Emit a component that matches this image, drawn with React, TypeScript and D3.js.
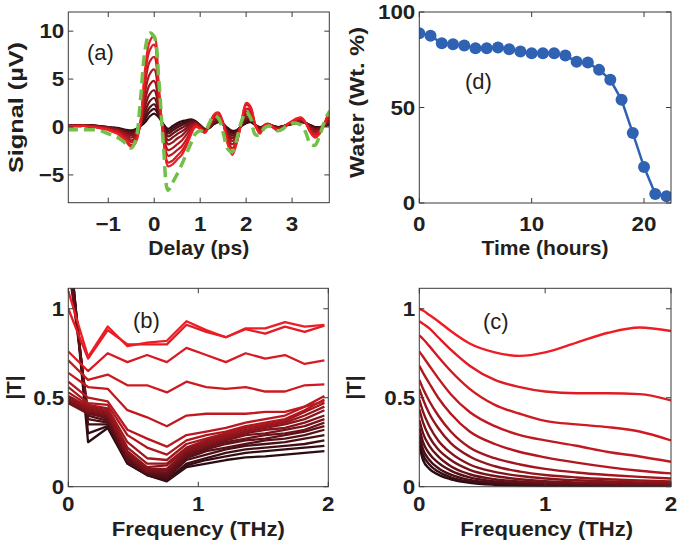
import React from "react";
import * as d3 from "d3";

// ---------- Panel (a): time-domain signals ----------
const delayPs = [-1.9,-1.8,-1.7,-1.6,-1.5,-1.4,-1.3,-1.2,-1.1,-1.0,-0.9,-0.8,-0.7,-0.6,-0.5,-0.4,-0.3,-0.2,-0.1,0.0,0.1,0.2,0.3,0.4,0.5,0.6,0.7,0.8,0.9,1.0,1.1,1.2,1.3,1.4,1.5,1.6,1.7,1.8,1.9,2.0,2.1,2.2,2.3,2.4,2.5,2.6,2.7,2.8,2.9,3.0,3.1,3.2,3.3,3.4,3.5,3.6,3.7,3.8,3.9];

const referenceSignal = [-0.3,-0.3,-0.3,-0.3,-0.3,-0.3,-0.3,-0.35,-0.5,-0.7, -0.9,-1.1,-1.4,-1.8,-2.2,-1.3,2.8,8.0,9.8,9.4, 4.9,-1.9,-6.6,-5.8,-4.9,-3.9,-2.8,-1.7,-0.7,-0.4, -0.5,0.4,1.2,0.9,-0.6,-2.3,-2.6,-1.2,0.6,1.6, 0.9,-0.8,-0.8,-0.1,0.1,-0.2,-0.4,-0.2,0.2,0.4, 0.4,0.2,-0.6,-1.8,-1.9,-0.9,0.5,1.5,2.0];

// ordered from wettest (dark) to driest (bright red)
const sig01 = [0.2,0.2,0.2,0.2,0.2,0.2,0.15,0.1,0.05,0.0, -0.05,-0.1,-0.2,-0.3,-0.35,-0.2,0.1,0.5,1.1,1.4, 1.0,0.3,-0.2,0.1,0.4,0.6,0.7,0.8,0.6,0.2, -0.2,-0.1,0.3,0.5,0.3,-0.1,-0.4,-0.3,0.1,0.4, 0.5,0.2,0.0,0.1,0.2,0.1,0.0,0.1,0.2,0.3, 0.4,0.5,0.4,0.2,0.0,0.0,0.1,0.2,0.3];
const sig02 = [0.19,0.19,0.19,0.19,0.19,0.19,0.14,0.09,0.035,-0.02, -0.08,-0.14,-0.25,-0.38,-0.46,-0.28,0.12,0.83,1.57,1.89, 1.19,0.21,-0.43,-0.14,0.17,0.39,0.54,0.7,0.56,0.18, -0.22,-0.08,0.36,0.56,0.3,-0.2,-0.55,-0.38,0.13,0.53, 0.6,0.2,-0.04,0.11,0.21,0.09,-0.02,0.08,0.21,0.32, 0.43,0.53,0.4,0.15,-0.07,-0.04,0.11,0.27,0.38];
const sig03 = [0.19,0.19,0.19,0.19,0.19,0.18,0.13,0.08,0.02,-0.04, -0.1,-0.17,-0.31,-0.46,-0.56,-0.37,0.15,1.16,2.04,2.37, 1.38,0.12,-0.67,-0.38,-0.06,0.18,0.38,0.61,0.53,0.15, -0.25,-0.06,0.42,0.62,0.31,-0.3,-0.7,-0.46,0.16,0.65, 0.69,0.2,-0.08,0.11,0.21,0.08,-0.05,0.06,0.21,0.34, 0.46,0.56,0.4,0.1,-0.13,-0.08,0.12,0.34,0.46];
const sig04 = [0.18,0.18,0.18,0.18,0.18,0.16,0.12,0.06,0.0,-0.06, -0.14,-0.22,-0.38,-0.56,-0.7,-0.48,0.18,1.6,2.66,3.02, 1.64,0.0,-0.98,-0.7,-0.36,-0.1,0.16,0.48,0.48,0.12, -0.28,-0.04,0.5,0.7,0.32,-0.44,-0.9,-0.56,0.2,0.82, 0.82,0.2,-0.14,0.12,0.22,0.06,-0.08,0.04,0.22,0.36, 0.5,0.6,0.4,0.04,-0.22,-0.14,0.14,0.44,0.56];
const sig05 = [0.17,0.17,0.17,0.17,0.17,0.14,0.1,0.04,-0.03,-0.09, -0.19,-0.28,-0.47,-0.69,-0.88,-0.62,0.22,2.15,3.44,3.83, 1.96,-0.15,-1.37,-1.1,-0.74,-0.45,-0.11,0.32,0.42,0.08, -0.32,-0.01,0.6,0.8,0.33,-0.61,-1.15,-0.69,0.25,1.03, 0.98,0.2,-0.21,0.13,0.23,0.04,-0.12,0.01,0.23,0.39, 0.55,0.65,0.4,-0.04,-0.33,-0.21,0.16,0.56,0.69];
const sig06 = [0.15,0.15,0.15,0.15,0.15,0.1,0.1,0.0,-0.05,-0.1, -0.2,-0.35,-0.6,-0.85,-1.1,-0.8,0.3,2.8,4.4,4.8, 2.3,-0.3,-1.8,-1.6,-1.2,-0.9,-0.4,0.1,0.35,0.0, -0.4,0.0,0.7,0.9,0.3,-0.8,-1.45,-0.85,0.3,1.3, 1.2,0.2,-0.3,0.15,0.25,0.0,-0.15,0.0,0.25,0.4, 0.6,0.7,0.4,-0.15,-0.45,-0.3,0.2,0.7,0.85];
const sig07 = [0.15,0.15,0.15,0.15,0.15,0.1,0.05,0.0,-0.1,-0.2, -0.3,-0.4,-0.7,-1.0,-1.4,-1.0,0.3,3.6,5.5,6.0, 2.8,-0.6,-2.4,-2.2,-1.8,-1.4,-0.8,-0.1,0.3,0.0, -0.4,0.1,0.9,1.1,0.4,-1.1,-1.8,-1.0,0.4,1.6, 1.4,0.2,-0.4,0.2,0.3,0.0,-0.2,-0.1,0.3,0.5, 0.7,0.8,0.4,-0.3,-0.6,-0.4,0.2,0.9,1.0];
const sig08 = [0.1,0.1,0.1,0.1,0.1,0.05,0.05,-0.05,-0.1,-0.2, -0.4,-0.5,-0.9,-1.2,-1.6,-1.2,0.4,4.5,6.8,7.3, 3.3,-0.8,-3.0,-2.8,-2.4,-2.0,-1.3,-0.4,0.2,-0.1, -0.5,0.1,1.0,1.2,0.4,-1.3,-2.2,-1.3,0.5,1.9, 1.7,0.2,-0.5,0.2,0.3,-0.1,-0.3,-0.1,0.3,0.5, 0.8,0.9,0.4,-0.4,-0.8,-0.5,0.3,1.1,1.3];
const sig09 = [0.1,0.1,0.1,0.1,0.1,0.0,0.0,-0.1,-0.2,-0.3, -0.5,-0.6,-1.0,-1.5,-1.9,-1.4,0.5,5.4,8.0,8.6, 3.9,-1.0,-3.7,-3.5,-3.0,-2.5,-1.7,-0.6,0.1,-0.2, -0.6,0.2,1.2,1.4,0.4,-1.6,-2.6,-1.5,0.5,2.3, 1.9,0.2,-0.6,0.2,0.3,-0.1,-0.4,-0.2,0.3,0.6, 0.8,0.9,0.4,-0.5,-1.0,-0.6,0.3,1.3,1.5];
const sig10 = [0.1,0.1,0.1,0.1,0.1,0.0,0.0,-0.1,-0.2,-0.3, -0.5,-0.7,-1.1,-1.6,-2.1,-1.6,0.5,6.0,8.9,9.5, 4.2,-1.2,-4.1,-3.9,-3.4,-2.9,-2.0,-0.8,0.0,-0.2, -0.6,0.2,1.3,1.5,0.4,-1.8,-2.9,-1.6,0.6,2.5, 2.1,0.2,-0.7,0.2,0.3,-0.1,-0.4,-0.2,0.3,0.6, 0.9,1.0,0.4,-0.6,-1.1,-0.7,0.3,1.4,1.6];
const signals = [sig01, sig02, sig03, sig04, sig05, sig06, sig07, sig08, sig09, sig10];

// ---------- Panel (d): water content ----------
const hours = [0,1,2,3,4,5,6,7,8,9,10,11,12,13,14,15,16,17,18,19,20,21,22];
const water = [88.9,87.6,83.6,83.1,82.4,81.0,81.0,81.4,80.5,79.3,78.4,78.4,78.4,77.2,74.0,73.5,69.7,64.5,54.0,36.6,18.8,4.7,3.5];

// ---------- Panel (b): measured |T| ----------
const freqB = [0,0.152,0.303,0.455,0.606,0.758,0.909,1.061,1.212,1.364,1.515,1.667,1.818,1.97];
const tb01 = [1.45,0.25,0.33,0.13,0.065,0.03,0.11,0.13,0.15,0.165,0.17,0.18,0.19,0.20];
const tb02 = [1.42,0.30,0.34,0.13,0.065,0.035,0.12,0.15,0.17,0.19,0.20,0.21,0.22,0.23];
const tb03 = [1.40,0.35,0.35,0.14,0.07,0.04,0.13,0.16,0.19,0.21,0.22,0.23,0.24,0.26];
const tb04 = [1.35,0.38,0.36,0.14,0.07,0.05,0.15,0.18,0.21,0.23,0.24,0.25,0.27,0.29];
const tb05 = [1.30,0.40,0.37,0.15,0.075,0.06,0.16,0.20,0.22,0.24,0.26,0.27,0.29,0.32];
const tb06 = [1.25,0.42,0.38,0.16,0.08,0.07,0.17,0.21,0.24,0.26,0.27,0.29,0.31,0.34];
const tb07 = [0.47,0.41,0.39,0.17,0.085,0.08,0.18,0.22,0.25,0.27,0.29,0.30,0.32,0.36];
const tb08 = [0.48,0.42,0.40,0.18,0.09,0.09,0.19,0.23,0.26,0.29,0.30,0.32,0.34,0.38];
const tb09 = [0.49,0.43,0.41,0.19,0.10,0.10,0.20,0.24,0.27,0.30,0.32,0.33,0.36,0.40];
const tb10 = [0.50,0.44,0.42,0.20,0.11,0.12,0.21,0.25,0.28,0.31,0.33,0.35,0.38,0.43];
const tb11 = [0.51,0.45,0.43,0.22,0.13,0.13,0.22,0.26,0.29,0.32,0.34,0.36,0.40,0.45];
const tb12 = [0.53,0.46,0.44,0.25,0.16,0.15,0.24,0.27,0.30,0.33,0.35,0.37,0.42,0.47];
const tb13 = [0.56,0.47,0.46,0.29,0.22,0.18,0.26,0.29,0.31,0.34,0.36,0.38,0.43,0.49];
const tb14 = [0.59,0.50,0.48,0.32,0.27,0.225,0.29,0.31,0.33,0.36,0.38,0.40,0.45,0.51];
const tb15 = [0.64,0.56,0.55,0.43,0.39,0.34,0.40,0.41,0.41,0.41,0.42,0.42,0.45,0.48];
const tb16 = [0.71,0.60,0.63,0.57,0.57,0.53,0.59,0.56,0.55,0.56,0.535,0.535,0.57,0.575];
const tb17 = [0.76,0.65,0.75,0.70,0.74,0.70,0.78,0.74,0.70,0.75,0.72,0.74,0.69,0.71];
const tb18 = [1.00,0.72,0.88,0.80,0.80,0.80,0.91,0.87,0.84,0.885,0.86,0.90,0.87,0.905];
const tb19 = [1.10,0.73,0.90,0.79,0.81,0.82,0.93,0.88,0.84,0.89,0.89,0.925,0.90,0.91];
const measuredT = [tb01,tb02,tb03,tb04,tb05,tb06,tb07,tb08,tb09,tb10,tb11,tb12,tb13,tb14,tb15,tb16,tb17,tb18,tb19];

// ---------- Panel (c): modelled |T| ----------
const freqC = [0,0.03,0.08,0.15,0.25,0.4,0.6,0.8,1.0,1.25,1.5,1.75,2.0];
const tc01 = [0.23,0.15,0.10,0.068,0.042,0.022,0.011,0.007,0.005,0.004,0.003,0.002,0.002];
const tc02 = [0.26,0.18,0.125,0.085,0.053,0.029,0.015,0.01,0.007,0.005,0.004,0.003,0.002];
const tc03 = [0.29,0.21,0.15,0.105,0.068,0.038,0.021,0.014,0.01,0.007,0.005,0.004,0.003];
const tc04 = [0.33,0.25,0.185,0.135,0.09,0.052,0.03,0.02,0.014,0.01,0.008,0.006,0.005];
const tc05 = [0.375,0.30,0.23,0.17,0.115,0.07,0.042,0.029,0.021,0.016,0.012,0.01,0.008];
const tc06 = [0.435,0.36,0.28,0.21,0.15,0.095,0.06,0.042,0.031,0.024,0.019,0.015,0.012];
const tc07 = [0.49,0.42,0.34,0.26,0.19,0.125,0.083,0.06,0.046,0.036,0.029,0.024,0.02];
const tc08 = [0.55,0.49,0.41,0.33,0.245,0.17,0.115,0.085,0.066,0.052,0.042,0.035,0.029];
const tc09 = [0.60,0.55,0.48,0.40,0.31,0.22,0.16,0.125,0.10,0.08,0.066,0.055,0.046];
const tc10 = [0.68,0.64,0.58,0.50,0.41,0.31,0.24,0.195,0.165,0.135,0.11,0.09,0.075];
const tc11 = [0.76,0.73,0.68,0.61,0.52,0.42,0.34,0.29,0.26,0.23,0.195,0.17,0.14];
const tc12 = [0.85,0.83,0.79,0.73,0.65,0.55,0.46,0.41,0.37,0.35,0.335,0.31,0.26];
const tc13 = [0.93,0.915,0.89,0.84,0.77,0.68,0.60,0.56,0.535,0.525,0.525,0.52,0.485];
const tc14 = [1.0,0.99,0.965,0.93,0.875,0.805,0.755,0.735,0.755,0.81,0.865,0.895,0.875];
const modelT = [tc01,tc02,tc03,tc04,tc05,tc06,tc07,tc08,tc09,tc10,tc11,tc12,tc13,tc14];

// ---------- tick values ----------
const ticksAX = [-1, 0, 1, 2, 3];
const ticksAY = [-5, 0, 5, 10];
const ticksDX = [0, 10, 20];
const ticksDY = [0, 50, 100];
const ticksFX = [0, 1, 2];
const ticksTY = [0, 0.5, 1];

const FONT = "'Liberation Sans', Arial, Helvetica, sans-serif";
const INK = "#231f20";
const RED = "#ee1c24";
const DARK = "#2a0d13";
const colorAt = (i: number, n: number) => d3.interpolateRgb(DARK, RED)(n <= 1 ? 1 : i / (n - 1));
const fmt = (v: number) => (v < 0 ? "\u2212" + Math.abs(v) : String(v));

type FrameProps = {
  id: string;
  xs: d3.ScaleLinear<number, number>;
  ys: d3.ScaleLinear<number, number>;
  xTicks: number[];
  yTicks: number[];
  xTickY: number;
  children?: React.ReactNode;
};

const TICK_FS = 20;
const TICK_SX = 1.12;

function Frame({ id, xs, ys, xTicks, yTicks, xTickY, children }: FrameProps) {
  const [x0, x1] = xs.range();
  const [y0, y1] = ys.range();
  const tk = 5;
  return (
    <g>
      <defs>
        <clipPath id={id}>
          <rect x={x0} y={y1} width={x1 - x0} height={y0 - y1} />
        </clipPath>
      </defs>
      <g clipPath={`url(#${id})`}>{children}</g>
      <rect x={x0} y={y1} width={x1 - x0} height={y0 - y1} fill="none" stroke="#3a3a3a" strokeWidth={1} />
      {xTicks.map((t) => (
        <g key={"x" + t}>
          <line x1={xs(t)} x2={xs(t)} y1={y0} y2={y0 - tk} stroke="#3a3a3a" />
          <line x1={xs(t)} x2={xs(t)} y1={y1} y2={y1 + tk} stroke="#3a3a3a" />
          <text
            transform={`translate(${xs(t)},${xTickY}) scale(${TICK_SX},1)`}
            textAnchor="middle"
            fontFamily={FONT}
            fontWeight="bold"
            fontSize={TICK_FS}
            fill={INK}
          >
            {fmt(t)}
          </text>
        </g>
      ))}
      {yTicks.map((t) => (
        <g key={"y" + t}>
          <line x1={x0} x2={x0 + tk} y1={ys(t)} y2={ys(t)} stroke="#3a3a3a" />
          <line x1={x1} x2={x1 - tk} y1={ys(t)} y2={ys(t)} stroke="#3a3a3a" />
          <text
            transform={`translate(${x0 - 4},${ys(t)}) scale(${TICK_SX},1)`}
            dy="0.36em"
            textAnchor="end"
            fontFamily={FONT}
            fontWeight="bold"
            fontSize={TICK_FS}
            fill={INK}
          >
            {fmt(t)}
          </text>
        </g>
      ))}
    </g>
  );
}

function Label({ x, y, text, len, rotate }: { x: number; y: number; text: string; len: number; rotate?: boolean }) {
  return (
    <text
      x={x}
      y={y}
      transform={rotate ? `rotate(-90 ${x} ${y})` : undefined}
      textAnchor="middle"
      fontFamily={FONT}
      fontWeight="bold"
      fontSize={21}
      fill={INK}
      textLength={len}
      lengthAdjust="spacingAndGlyphs"
    >
      {text}
    </text>
  );
}

function Tag({ x, y, text }: { x: number; y: number; text: string }) {
  return (
    <text x={x} y={y} fontFamily={FONT} fontSize={22} fill={INK}>
      {text}
    </text>
  );
}

export default function App() {
  // panel (a)
  const xa = d3.scaleLinear().domain([-1.87, 3.81]).range([68.3, 329.3]);
  const ya = d3.scaleLinear().domain([-7.9, 12]).range([202.7, 12]);
  const lineA = d3
    .line<number>()
    .x((_, i) => xa(delayPs[i]))
    .y((v) => ya(v))
    .curve(d3.curveCatmullRom.alpha(0.5));

  // panel (d)
  const xd = d3.scaleLinear().domain([0, 22.4]).range([419.3, 671]);
  const yd = d3.scaleLinear().domain([0, 100]).range([203, 12]);
  const lineD = d3
    .line<number>()
    .x((_, i) => xd(hours[i]))
    .y((v) => yd(v));

  // panel (b)
  const xb = d3.scaleLinear().domain([0, 2]).range([68.3, 328.3]);
  const yb = d3.scaleLinear().domain([0, 1.115]).range([486.7, 288.3]);
  const lineB = d3
    .line<number>()
    .x((_, i) => xb(freqB[i]))
    .y((v) => yb(v));

  // panel (c)
  const xc = d3.scaleLinear().domain([0, 2]).range([419.3, 671]);
  const yc = d3.scaleLinear().domain([0, 1.115]).range([486.7, 288.3]);
  const lineC = d3
    .line<number>()
    .x((_, i) => xc(freqC[i]))
    .y((v) => yc(v))
    .curve(d3.curveMonotoneX);

  return (
    <svg
      width={681}
      height={549}
      viewBox="0 0 681 549"
      style={{ position: "absolute", left: 0, top: 0, background: "#fff" }}
    >
      <rect x={0} y={0} width={681} height={549} fill="#fff" />

      {/* (a) */}
      <Frame id="clipA" xs={xa} ys={ya} xTicks={ticksAX} yTicks={ticksAY} xTickY={230.5}>
        {signals.map((s, i) => (
          <path key={i} d={lineA(s) || ""} fill="none" stroke={colorAt(i, signals.length)} strokeWidth={2.2} strokeLinejoin="round" />
        ))}
        <path
          d={lineA(referenceSignal) || ""}
          fill="none"
          stroke="#72bf4a"
          strokeWidth={3.5}
          strokeDasharray="11 6"
        />
      </Frame>
      <Tag x={87} y={60} text="(a)" />
      <Label x={198.8} y={254.5} text="Delay (ps)" len={101} />
      <Label x={23} y={107.5} text="Signal (µV)" len={131} rotate />

      {/* (d) */}
      <Frame id="clipD" xs={xd} ys={yd} xTicks={ticksDX} yTicks={ticksDY} xTickY={230.5}>
        <path d={lineD(water) || ""} fill="none" stroke="#2f62b3" strokeWidth={2.5} />
        {water.map((v, i) => (
          <circle key={i} cx={xd(hours[i])} cy={yd(v)} r={6} fill="#2f62b3" />
        ))}
      </Frame>
      <Tag x={465} y={89} text="(d)" />
      <Label x={545} y={254.5} text="Time (hours)" len={127} />
      <Label x={364} y={102.5} text="Water (Wt. %)" len={151} rotate />

      {/* (b) */}
      <Frame id="clipB" xs={xb} ys={yb} xTicks={ticksFX} yTicks={ticksTY} xTickY={511}>
        {measuredT.map((s, i) => (
          <path key={i} d={lineB(s) || ""} fill="none" stroke={colorAt(i, measuredT.length)} strokeWidth={2.3} strokeLinejoin="round" />
        ))}
      </Frame>
      <Tag x={133} y={328} text="(b)" />
      <Label x={198.3} y={536} text="Frequency (THz)" len={173} />
      <Label x={21} y={387.5} text="|T|" len={24} rotate />

      {/* (c) */}
      <Frame id="clipC" xs={xc} ys={yc} xTicks={ticksFX} yTicks={ticksTY} xTickY={511}>
        {modelT.map((s, i) => (
          <path key={i} d={lineC(s) || ""} fill="none" stroke={colorAt(i, modelT.length)} strokeWidth={2.4} />
        ))}
      </Frame>
      <Tag x={483} y={329} text="(c)" />
      <Label x={546.7} y={536} text="Frequency (THz)" len={173} />
      <Label x={361} y={387.5} text="|T|" len={24} rotate />
    </svg>
  );
}
